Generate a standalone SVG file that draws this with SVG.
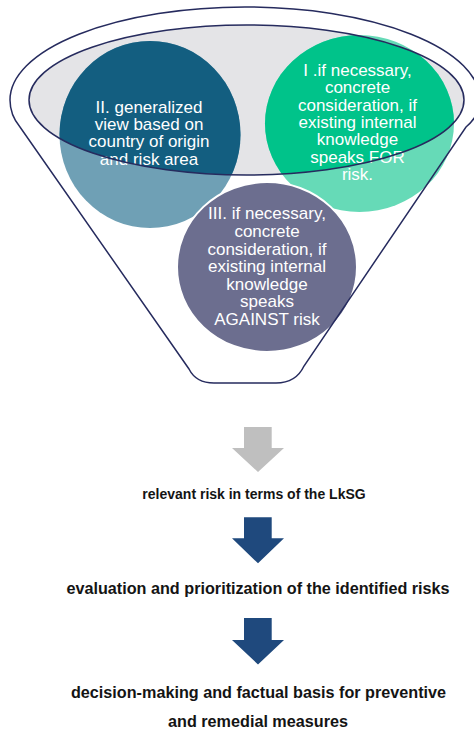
<svg xmlns="http://www.w3.org/2000/svg" width="474" height="731" viewBox="0 0 474 731">
<defs>
<style>
.ct{font-family:"Liberation Sans",Arial,sans-serif;font-size:17px;fill:#ffffff;text-anchor:middle}
.st{font-family:"Liberation Sans",Arial,sans-serif;font-weight:bold;fill:#141414;text-anchor:middle}
.line{fill:none;stroke:#262b5e;stroke-width:1.5}
</style>
<clipPath id="inner"><ellipse cx="246.5" cy="100" rx="217.5" ry="75"/></clipPath>
</defs>
<rect width="474" height="731" fill="#ffffff"/>
<g id="funnel-fill">
<ellipse cx="246.5" cy="100" rx="217.5" ry="75" fill="#e4e4e7"/>
</g>
<g id="node-II">
<ellipse cx="150" cy="134.5" rx="90.5" ry="93.5" fill="#6fa0b5"/>
<ellipse cx="150" cy="134.5" rx="90.5" ry="93.5" fill="#135e80" clip-path="url(#inner)"/>
<text class="ct" x="149" y="113">II. generalized</text>
<text class="ct" x="149" y="130.2">view based on</text>
<text class="ct" x="149" y="147.4">country of origin</text>
<text class="ct" x="149" y="164.6">and risk area</text>
</g>
<g id="node-I">
<ellipse cx="359.5" cy="123.5" rx="94.5" ry="88.5" fill="#66dab7"/>
<ellipse cx="359.5" cy="123.5" rx="94.5" ry="88.5" fill="#00c38a" clip-path="url(#inner)"/>
<text class="ct" x="357.5" y="76">I .if necessary,</text>
<text class="ct" x="357.5" y="93.3">concrete</text>
<text class="ct" x="357.5" y="110.7">consideration, if</text>
<text class="ct" x="357.5" y="128">existing internal</text>
<text class="ct" x="357.5" y="145.3">knowledge</text>
<text class="ct" x="357.5" y="162.7">speaks FOR</text>
<text class="ct" x="357.5" y="180">risk.</text>
</g>
<g id="node-III">
<ellipse cx="267" cy="267" rx="90" ry="85" fill="#6c6e8f" stroke="#ffffff" stroke-width="2"/>
<text class="ct" x="267" y="219.3">III. if necessary,</text>
<text class="ct" x="267" y="236.9">concrete</text>
<text class="ct" x="267" y="254.5">consideration, if</text>
<text class="ct" x="267" y="272.1">existing internal</text>
<text class="ct" x="267" y="289.7">knowledge</text>
<text class="ct" x="267" y="307.3">speaks</text>
<text class="ct" x="267" y="324.9">AGAINST risk</text>
</g>
<g id="funnel-outline">
<ellipse class="line" cx="246.5" cy="100" rx="217.5" ry="75"/>
<path class="line" d="M 20,127 Q 10,115 10,100 A 235 93 0 0 1 480,100 Q 480,115 466,127 L 304,366 Q 296,383 276,383 L 214,383 Q 196,383 189,369 L 20,127 Z"/>
</g>
<g id="connectors">
<path id="arrow-1" d="M244,427 H271.7 V448 H284 L258,472 L232,448 H244 Z" fill="#bfbfbf"/>
<path id="arrow-2" d="M244,517.3 H271.7 V538.3 H284 L258,563.3 L232,538.3 H244 Z" fill="#1f497d"/>
<path id="arrow-3" d="M244,618 H271.7 V640 H284 L258,664.5 L232,640 H244 Z" fill="#1f497d"/>
</g>
<g id="step-1"><text class="st" x="254" y="499" font-size="14">relevant risk in terms of the LkSG</text></g>
<g id="step-2"><text class="st" x="258" y="594" font-size="16.2">evaluation and prioritization of the identified risks</text></g>
<g id="step-3">
<text class="st" x="258.5" y="698" font-size="16.2">decision-making and factual basis for preventive</text>
<text class="st" x="258" y="727" font-size="16.2">and remedial measures</text>
</g>
</svg>
